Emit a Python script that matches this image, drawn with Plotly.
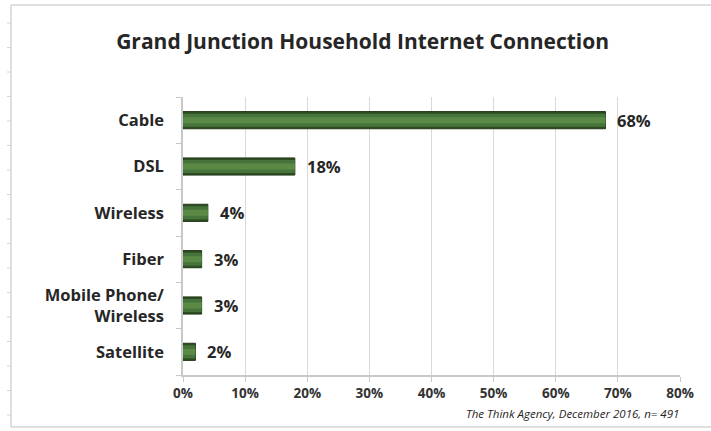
import plotly.graph_objects as go

# Survey results: share of households by connection type
categories = ["Cable", "DSL", "Wireless", "Fiber", "Mobile Phone/<br>Wireless", "Satellite"]
shares = [68, 18, 4, 3, 3, 2]
x_ticks = [0, 10, 20, 30, 40, 50, 60, 70, 80]
x_tick_labels = [f"{t}%" for t in x_ticks]

title_text = "Grand Junction Household Internet Connection"
source_text = "The Think Agency, December 2016, n= 491"

W, H = 711, 431
M_L, M_R, M_T, M_B = 183, 31, 97, 56
FONT = "Open Sans"
TEXT = "#262626"

# Plotly draws categories bottom-up, so reverse to list Cable first
cats_r = categories[::-1]
vals_r = shares[::-1]

fig = go.Figure()

# Layered bars (dark rim -> mid body -> light core) for a bevelled look
layers = [
    (0.37, "#2e4d20", dict(color="#22391a", width=1)),
    (0.28, "#46743a", dict(width=0)),
    (0.13, "#5a8a46", dict(width=0)),
]
for w, col, ln in layers:
    fig.add_trace(go.Bar(
        y=cats_r, x=vals_r, orientation="h", width=w,
        marker=dict(color=col, line=ln),
        hoverinfo="skip", showlegend=False,
    ))

# Value labels to the right of each bar
for c, v in zip(cats_r, vals_r):
    fig.add_annotation(
        x=v, y=c, text=f"{v}%", showarrow=False,
        xanchor="left", xshift=10,
        font=dict(family=FONT, size=16.5, color=TEXT, weight="bold"),
    )

# Outer frame: top, left (with small ticks) and bottom lines
pw = W - M_L - M_R
ph = H - M_T - M_B
def px_to_paper_x(px):
    return (px - M_L) / pw
def px_to_paper_y(py):
    return (H - M_B - py) / ph

frame = dict(color="#d4d4d4", width=1.5)
fig.add_shape(type="line", xref="paper", yref="paper",
              x0=px_to_paper_x(11), x1=px_to_paper_x(W), y0=px_to_paper_y(5), y1=px_to_paper_y(5), line=frame)
fig.add_shape(type="line", xref="paper", yref="paper",
              x0=px_to_paper_x(11), x1=px_to_paper_x(11), y0=px_to_paper_y(5), y1=px_to_paper_y(427), line=frame)
fig.add_shape(type="line", xref="paper", yref="paper",
              x0=px_to_paper_x(11), x1=px_to_paper_x(W), y0=px_to_paper_y(427), y1=px_to_paper_y(427), line=frame)
ty = 23
while ty < 427:
    fig.add_shape(type="line", xref="paper", yref="paper",
                  x0=px_to_paper_x(7), x1=px_to_paper_x(11), y0=px_to_paper_y(ty), y1=px_to_paper_y(ty),
                  line=dict(color="#d4d4d4", width=1))
    ty += 24.5

# Source note
fig.add_annotation(
    xref="paper", yref="paper", x=px_to_paper_x(681), y=px_to_paper_y(413),
    xanchor="right", yanchor="middle", showarrow=False, text=source_text,
    font=dict(family=FONT, size=11.5, color=TEXT, style="italic"),
)

fig.update_layout(
    width=W, height=H,
    margin=dict(l=M_L, r=M_R, t=M_T, b=M_B, autoexpand=False),
    paper_bgcolor="white", plot_bgcolor="white",
    barmode="overlay",
    title=dict(text=f"<b>{title_text}</b>", x=0.51, xanchor="center", y=1 - 42 / H, yanchor="middle",
               font=dict(family=FONT, size=21, color=TEXT)),
    xaxis=dict(
        range=[0, 80], tickvals=x_ticks, ticktext=x_tick_labels,
        showgrid=True, gridcolor="#d9d9d9", gridwidth=1,
        showline=True, linecolor="#c8c8c8", linewidth=1.5,
        ticks="outside", ticklen=5, tickcolor="#c8c8c8",
        tickfont=dict(family=FONT, size=13.5, color="#333333", weight="bold"),
        zeroline=False, fixedrange=True,
    ),
    yaxis=dict(
        categoryorder="array", categoryarray=cats_r,
        showline=True, linecolor="#c8c8c8", linewidth=1.5,
        ticks="outside", ticklen=5, tickcolor="#c8c8c8", tickson="boundaries",
        ticklabelstandoff=14,
        tickfont=dict(family=FONT, size=16.5, color=TEXT, weight="bold"),
        showgrid=False, fixedrange=True,
    ),
)

fig.write_html("out.html")
